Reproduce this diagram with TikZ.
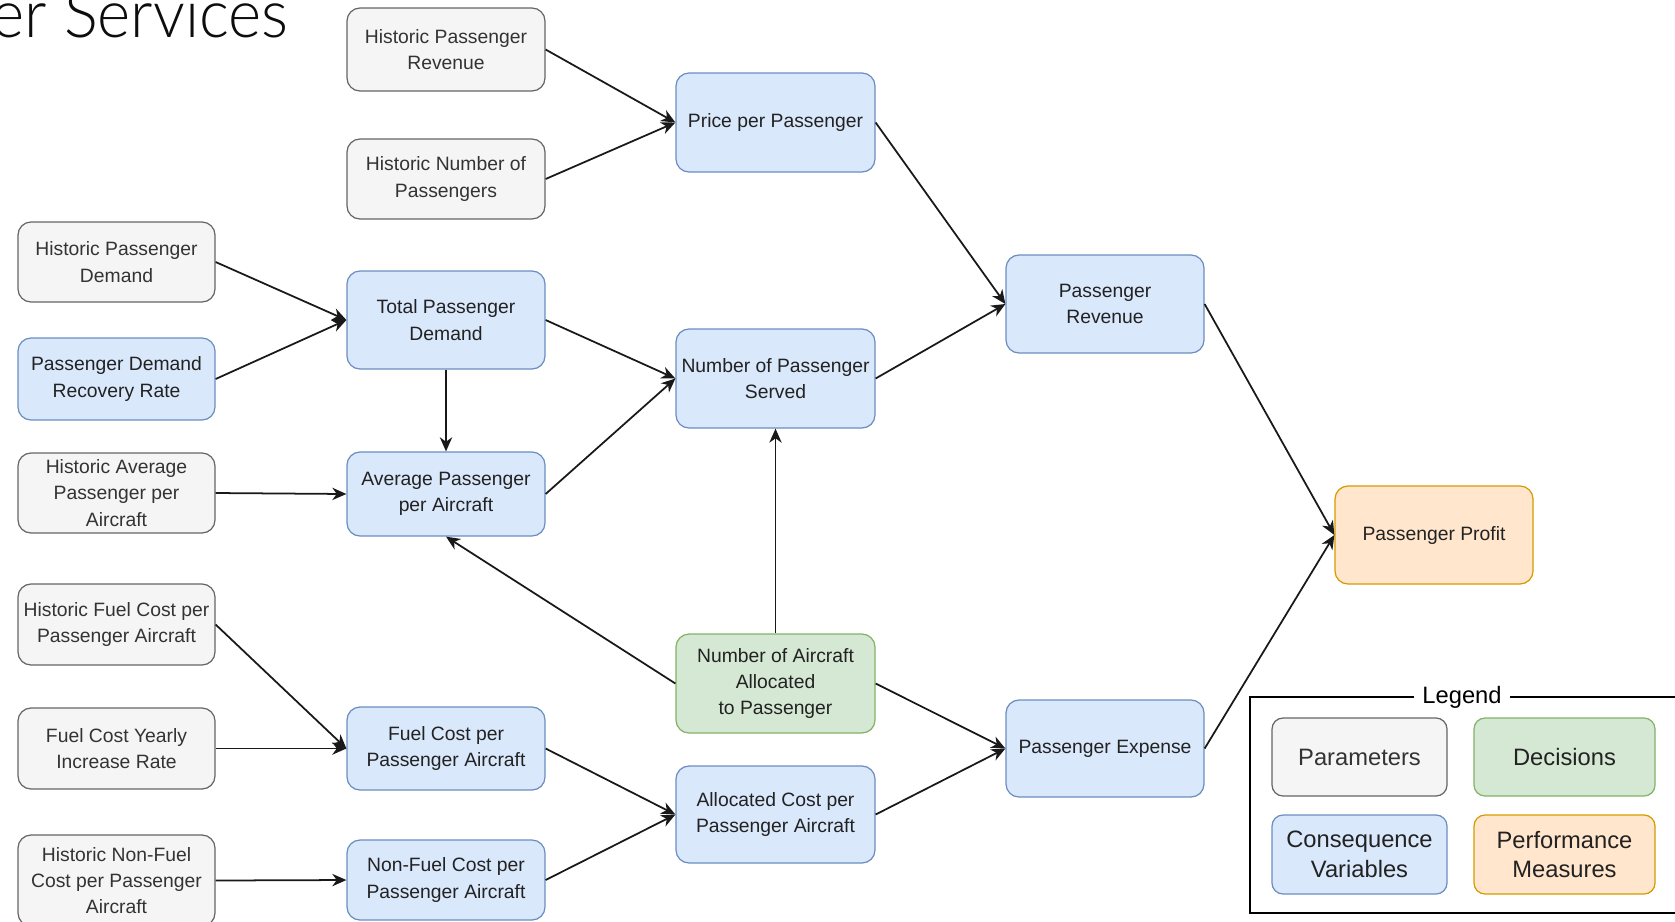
\documentclass[tikz,border=0pt]{standalone}
\usepackage{fontspec}
\setmainfont{Liberation Sans}
\IfFontExistsTF{Lato Light}
  {\newfontfamily\titlefont{Lato Light}[FakeStretch=0.95]}
  {\newfontfamily\titlefont{Liberation Sans}[FakeStretch=0.9]}
\usetikzlibrary{arrows.meta}

\definecolor{parfill}{HTML}{F5F5F5}
\definecolor{parline}{HTML}{666666}
\definecolor{partext}{HTML}{333333}
\definecolor{confill}{HTML}{DAE8FC}
\definecolor{conline}{HTML}{6C8EBF}
\definecolor{decfill}{HTML}{D5E8D4}
\definecolor{decline}{HTML}{82B366}
\definecolor{perffill}{HTML}{FFE6CC}
\definecolor{perfline}{HTML}{D79B00}
\definecolor{boxtext}{HTML}{222222}

\tikzset{
  boxbase/.style={rectangle, rounded corners=0.26cm, line width=0.7pt,
    align=center, inner sep=2pt, font=\fontsize{11}{15}\selectfont},
  param/.style={boxbase, draw=parline, fill=parfill, text=partext},
  conseq/.style={boxbase, draw=conline, fill=confill, text=boxtext},
  decis/.style={boxbase, draw=decline, fill=decfill, text=boxtext},
  perf/.style={boxbase, draw=perfline, fill=perffill, text=boxtext},
  legbox/.style={font=\fontsize{13.5}{17}\selectfont, rounded corners=0.22cm},
  link/.style={line width=1pt, draw=black!90,
    -{Stealth[length=8pt, width=7pt, inset=2.5pt]}},
}

% box from its corner coordinates (pixel grid): name, x1, y1, x2, y2, style, text
\newcommand\pbox[7]{%
  \node[#6, minimum width={(#4-#2)*0.02cm}, minimum height={(#5-#3)*0.02cm}]
    (#1) at ({(#2+#4)/2},{(#3+#5)/2}) {#7};}

\begin{document}
\begin{tikzpicture}[x=0.02cm, y=-0.02cm]
\useasboundingbox (0,0) rectangle (1675,921);
\clip (0,0) rectangle (1675,921);
\fill[white] (0,0) rectangle (1675,921);

% heading
\node[anchor=base west, inner sep=0, text=black!95,
      font=\titlefont\fontsize{38}{40}\selectfont] (title) at (-9,37) {er Services};

% parameters
\pbox{hpr}{347}{8}{545}{91}{param}{Historic Passenger\\Revenue}
\pbox{hnp}{347}{139}{545}{219}{param}{Historic Number of\\Passengers}
\pbox{hpd}{18}{222}{215}{302}{param}{Historic Passenger\\Demand}
\pbox{hapa}{18}{453}{215}{533}{param}{Historic Average\\Passenger per\\Aircraft}
\pbox{hfc}{18}{584}{215}{665}{param}{Historic Fuel Cost per\\Passenger Aircraft}
\pbox{fcyir}{18}{708}{215}{789}{param}{Fuel Cost Yearly\\Increase Rate}
\pbox{hnfc}{18}{835}{215}{926}{param}{Historic Non-Fuel\\Cost per Passenger\\Aircraft}

% consequence variables
\pbox{ppp}{676}{73}{875}{172}{conseq}{Price per Passenger}
\pbox{pdrr}{18}{338}{215}{420}{conseq}{Passenger Demand\\Recovery Rate}
\pbox{tpd}{347}{271}{545}{369}{conseq}{Total Passenger\\Demand}
\pbox{nps}{676}{329}{875}{428}{conseq}{Number of Passenger\\Served}
\pbox{prev}{1006}{255}{1204}{353}{conseq}{Passenger\\Revenue}
\pbox{apa}{347}{452}{545}{536}{conseq}{Average Passenger\\per Aircraft}
\pbox{fcpa}{347}{707}{545}{790}{conseq}{Fuel Cost per\\Passenger Aircraft}
\pbox{pexp}{1006}{700}{1204}{797}{conseq}{Passenger Expense}
\pbox{acpa}{676}{766}{875}{863}{conseq}{Allocated Cost per\\Passenger Aircraft}
\pbox{nfcpa}{347}{840}{545}{920}{conseq}{Non-Fuel Cost per\\Passenger Aircraft}

% decision
\pbox{naa}{676}{634}{875}{733}{decis}{Number of Aircraft\\Allocated\\to Passenger}

% performance measure
\pbox{pprof}{1335}{486}{1533}{584}{perf}{Passenger Profit}

% influences
\draw[link] (hpr.east) -- (ppp.west);
\draw[link] (hnp.east) -- (ppp.west);
\draw[link] (ppp.east) -- (prev.west);
\draw[link] (hpd.east) -- (tpd.west);
\draw[link] (pdrr.east) -- (tpd.west);
\draw[link] (tpd.east) -- (nps.west);
\draw[link] (tpd.south) -- (apa.north);
\draw[link] (hapa.east) -- (apa.west);
\draw[link] (apa.east) -- (nps.west);
\draw[link] (nps.east) -- (prev.west);
\draw[link] (naa.north) -- (nps.south);
\draw[link] (naa.west) -- (apa.south);
\draw[link] (naa.east) -- (pexp.west);
\draw[link] (hfc.east) -- (fcpa.west);
\draw[link] (fcyir.east) -- (fcpa.west);
\draw[link] (fcpa.east) -- (acpa.west);
\draw[link] (hnfc.east) -- (nfcpa.west);
\draw[link] (nfcpa.east) -- (acpa.west);
\draw[link] (acpa.east) -- (pexp.west);
\draw[link] (prev.east) -- (pprof.west);
\draw[link] (pexp.east) -- (pprof.west);

% legend
\draw[line width=1.1pt, black] (1250,697) rectangle (1685,913);
\node[fill=white, inner xsep=5pt, inner ysep=1pt, font=\fontsize{13.5}{16}\selectfont]
  (legtitle) at (1462,697) {Legend};
\pbox{lpar}{1272}{718}{1447}{796}{param,legbox}{Parameters}
\pbox{ldec}{1474}{718}{1655}{796}{decis,legbox}{Decisions}
\pbox{lcon}{1272}{815}{1447}{894}{conseq,legbox}{Consequence\\Variables}
\pbox{lperf}{1474}{815}{1655}{894}{perf,legbox}{Performance\\Measures}
\end{tikzpicture}
\end{document}
